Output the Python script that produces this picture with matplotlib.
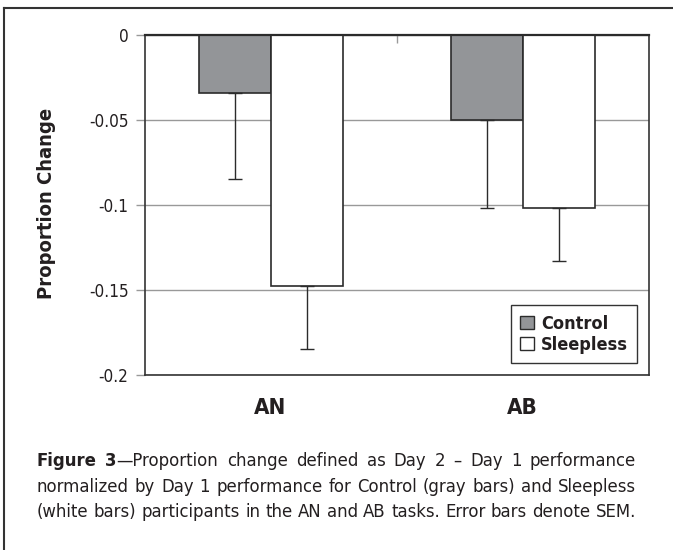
import matplotlib
matplotlib.use('Agg')
import matplotlib.pyplot as plt
from matplotlib import font_manager
from matplotlib.font_manager import FontProperties
from matplotlib.patches import Patch
from matplotlib.lines import Line2D
import numpy as np

# DATA
tasks = ['AN', 'AB']
control = [-0.034, -0.050]
sleepless = [-0.148, -0.102]
control_sem = [0.051, 0.052]
sleepless_sem = [0.037, 0.031]
yticks = [0, -0.05, -0.1, -0.15, -0.2]
ytick_labels = ['0', '-0.05', '-0.1', '-0.15', '-0.2']

caption = [
    [[('Figure', 'bold')], [('3', 'bold'), ('—Proportion', 'normal')], [('change', 'normal')],
     [('defined', 'normal')], [('as', 'normal')], [('Day', 'normal')], [('2', 'normal')],
     [('–', 'normal')], [('Day', 'normal')], [('1', 'normal')], [('performance', 'normal')]],
    [[(w, 'normal')] for w in 'normalized by Day 1 performance for Control (gray bars) and Sleepless'.split()],
    [[(w, 'normal')] for w in '(white bars) participants in the AN and AB tasks. Error bars denote SEM.'.split()],
]

# look for a narrow sans (Arial Narrow look); fall back to Liberation Sans, a bit smaller
files = [f.fname for f in font_manager.fontManager.ttflist]
def find(name):
    for fn in files:
        if fn.split('/')[-1].lower() == name:
            return fn
    return None

narrow = [('liberationsansnarrow-regular.ttf', 'liberationsansnarrow-bold.ttf'),
          ('dejavusanscondensed.ttf', 'dejavusanscondensed-bold.ttf'),
          ('robotocondensed-regular.ttf', 'robotocondensed-bold.ttf'),
          ('opensans-condregular.ttf', 'opensans-condbold.ttf')]
REG = BOLD = None
for a, b in narrow:
    ra, rb = find(a), find(b)
    if ra and rb:
        REG, BOLD = ra, rb
        break
SCALE = 1.0 if REG else 0.84

def fp(size, bold=False):
    size = size * SCALE
    if REG:
        return FontProperties(fname=BOLD if bold else REG, size=size)
    return FontProperties(family='Liberation Sans', weight='bold' if bold else 'normal', size=size)

TXT = '#231f20'
EDGE = '#2b2b2b'
GRAY = '#939598'

W, H = 673, 550
fig = plt.figure(figsize=(W / 100, H / 100), dpi=100)
ax = fig.add_axes([144.5 / W, 1 - 374.7 / H, 504.2 / W, 340 / H])

# BARS
x = np.arange(len(tasks))
bw = 0.2857
ax.bar(x - bw / 2, control, bw, color=GRAY, edgecolor=EDGE, linewidth=1.2, zorder=2)
ax.bar(x + bw / 2, sleepless, bw, color='white', edgecolor=EDGE, linewidth=1.2, zorder=2)
ax.errorbar(x - bw / 2, control, yerr=[control_sem, [0, 0]], fmt='none',
            ecolor=EDGE, elinewidth=1, capsize=4.7, capthick=1, zorder=3)
ax.errorbar(x + bw / 2, sleepless, yerr=[sleepless_sem, [0, 0]], fmt='none',
            ecolor=EDGE, elinewidth=1, capsize=4.7, capthick=1, zorder=3)

# AXES
ax.set_xlim(-0.5, 1.5)
ax.set_ylim(-0.2, 0)
ax.set_yticks(yticks)
ax.set_yticklabels(ytick_labels, fontproperties=fp(12.3), color=TXT)
ax.tick_params(axis='y', direction='out', length=6.5, width=1, color='#999999', pad=5)
ax.set_xticks(x)
ax.set_xticklabels(tasks, fontproperties=fp(16, True), color=TXT)
ax.tick_params(axis='x', which='major', length=0, pad=17)
ax.set_xticks([0.5], minor=True)
ax.tick_params(axis='x', which='minor', top=True, bottom=False, direction='in',
               length=6, width=1, color='#999999')
ax.yaxis.grid(True, color='#999999', linewidth=1)
ax.set_axisbelow(True)
for s in ['left', 'bottom', 'right']:
    ax.spines[s].set_color('#333333')
    ax.spines[s].set_linewidth(1.2)
ax.spines['top'].set_color(EDGE)
ax.spines['top'].set_linewidth(1.6)

fig.text(47 / W, 1 - 203 / H, 'Proportion Change', rotation=90, ha='center', va='center',
         fontproperties=fp(14.5, True), color=TXT)

handles = [Patch(facecolor=GRAY, edgecolor=EDGE, linewidth=1),
           Patch(facecolor='white', edgecolor=EDGE, linewidth=1)]
leg = ax.legend(handles, ['Control', 'Sleepless'], loc='lower right',
                bbox_to_anchor=(0.977, 0.034), borderaxespad=0, fancybox=False,
                framealpha=1, edgecolor='#333333', handlelength=0.75, handleheight=0.72,
                handletextpad=0.4, labelspacing=0.2, borderpad=0.5,
                prop=fp(13, True))
leg.get_frame().set_linewidth(1)
for t in leg.get_texts():
    t.set_color(TXT)

# FRAME
fig.add_artist(Line2D([3.5 / W, 1], [1 - 7.5 / H, 1 - 7.5 / H], color='#333333', lw=1.5))
fig.add_artist(Line2D([3.5 / W, 3.5 / W], [0, 1 - 7.5 / H], color='#333333', lw=1.5))

# CAPTION, justified word by word
r = fig.canvas.get_renderer()
X0, X1 = 37, 636
MIN_GAP = 5

def make_line(words, ybase, size):
    return [[fig.text(0, 1 - ybase / H, txt, fontproperties=fp(size, wt == 'bold'),
                      va='baseline', ha='left', color=TXT) for txt, wt in word] for word in words]

def measure(items):
    return [[t.get_window_extent(r).width for t in runs] for runs in items]

base = 16
lines = [make_line(words, yb, base) for words, yb in zip(caption, [466, 492, 517])]
# one font size for all lines, small enough that the widest line fits
size = base
for items in lines:
    total = sum(sum(ws) for ws in measure(items))
    room = X1 - X0 - MIN_GAP * (len(items) - 1)
    size = min(size, base * room / total)
for items, words in zip(lines, caption):
    for runs, word in zip(items, words):
        for t, (txt, wt) in zip(runs, word):
            t.set_fontproperties(fp(size, wt == 'bold'))

for items in lines:
    widths = measure(items)
    total = sum(sum(ws) for ws in widths)
    gap = (X1 - X0 - total) / (len(items) - 1)
    xp = X0
    for runs, ws in zip(items, widths):
        for t, w in zip(runs, ws):
            t.set_x(xp / W)
            xp += w
        xp += gap

fig.savefig('out.png', dpi=100)
